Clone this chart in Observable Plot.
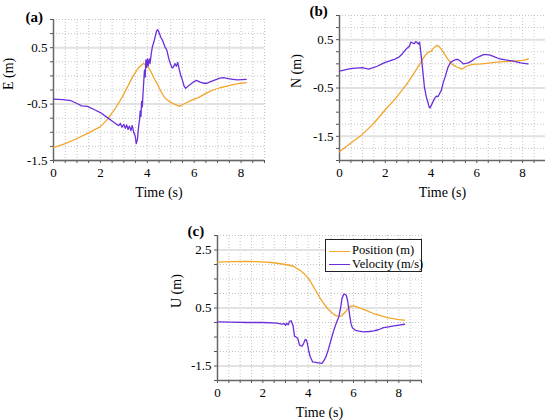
<!DOCTYPE html>
<html><head><meta charset="utf-8">
<script src="https://cdn.jsdelivr.net/npm/d3@7"></script>
<script src="https://cdn.jsdelivr.net/npm/@observablehq/plot@0.6"></script>
<style>
body{margin:0;background:#fff;}
#root{position:relative;width:545px;height:420px;font-family:"Liberation Serif","Times New Roman",serif;overflow:hidden;}
.pan{position:absolute;}
.legend{position:absolute;left:325px;top:239px;width:95px;height:31px;border:1px solid #222;background:#fff;font-family:"Liberation Serif","Times New Roman",serif;font-size:12.5px;color:#000;}
.row{position:absolute;left:3px;height:14px;line-height:14px;white-space:nowrap;}
.sw{display:inline-block;width:21px;height:0;vertical-align:middle;margin-right:2px;}
</style></head><body><div id="root"></div>
<script>
// ---- data (time in s) ----
const tPosE = [0, 0.5, 1.0, 1.5, 2.0, 2.3, 2.6, 2.9, 3.2, 3.4, 3.6, 3.83, 4.0, 4.15, 4.3, 4.45, 4.6, 4.75, 5.0, 5.2, 5.37, 5.6, 5.9, 6.2, 6.5, 6.8, 7.1, 7.4, 7.7, 8.0, 8.22];
const posE = [-1.27, -1.2, -1.11, -1.01, -0.9, -0.77, -0.6, -0.4, -0.16, 0.0, 0.13, 0.22, 0.18, 0.08, -0.05, -0.16, -0.29, -0.39, -0.47, -0.51, -0.54, -0.49, -0.43, -0.38, -0.31, -0.25, -0.21, -0.18, -0.15, -0.13, -0.12];
const tVelE = [0, 0.4, 0.75, 1.0, 1.2, 1.45, 1.75, 2.0, 2.3, 2.5, 2.7, 2.78, 2.85, 2.92, 3.0, 3.06, 3.12, 3.18, 3.24, 3.3, 3.36, 3.42, 3.48, 3.53, 3.58, 3.63, 3.67, 3.7, 3.73, 3.76, 3.79, 3.82, 3.85, 3.88, 3.91, 3.94, 3.97, 4.0, 4.04, 4.08, 4.12, 4.17, 4.22, 4.28, 4.34, 4.4, 4.45, 4.5, 4.58, 4.66, 4.75, 4.84, 4.92, 5.0, 5.06, 5.12, 5.18, 5.24, 5.3, 5.36, 5.42, 5.5, 5.57, 5.64, 5.72, 5.8, 5.9, 6.0, 6.1, 6.25, 6.4, 6.55, 6.7, 6.9, 7.1, 7.25, 7.45, 7.65, 7.85, 8.05, 8.22];
const velE = [-0.41, -0.42, -0.44, -0.49, -0.53, -0.54, -0.6, -0.65, -0.74, -0.8, -0.86, -0.88, -0.84, -0.91, -0.86, -0.93, -0.87, -0.95, -0.89, -0.97, -0.88, -1.0, -1.06, -1.2, -1.12, -0.9, -0.78, -0.62, -0.72, -0.45, -0.55, -0.3, -0.1, 0.1, -0.02, 0.28, 0.15, 0.3, 0.18, 0.3, 0.22, 0.4, 0.52, 0.6, 0.7, 0.8, 0.82, 0.77, 0.68, 0.62, 0.52, 0.45, 0.3, 0.2, 0.14, 0.16, 0.22, 0.17, 0.24, 0.12, 0.02, -0.08, -0.18, -0.22, -0.19, -0.16, -0.13, -0.1, -0.08, -0.11, -0.13, -0.13, -0.1, -0.07, -0.04, -0.03, -0.05, -0.06, -0.07, -0.065, -0.06];

const tPosN = [0, 0.5, 1.0, 1.5, 2.0, 2.5, 3.0, 3.3, 3.55, 3.75, 3.9, 4.0, 4.1, 4.23, 4.35, 4.5, 4.7, 4.9, 5.1, 5.35, 5.55, 5.8, 6.2, 6.6, 7.0, 7.5, 8.0, 8.25];
const posN = [-1.82, -1.64, -1.46, -1.23, -0.95, -0.69, -0.38, -0.16, 0.03, 0.18, 0.25, 0.26, 0.32, 0.38, 0.36, 0.27, 0.12, 0.0, -0.06, -0.11, -0.05, -0.01, 0.0, 0.02, 0.04, 0.05, 0.07, 0.1];
const tVelN = [0, 0.47, 0.99, 1.28, 1.65, 1.94, 2.39, 2.6, 2.75, 2.9, 2.97, 3.05, 3.12, 3.2, 3.27, 3.33, 3.39, 3.45, 3.5, 3.56, 3.64, 3.71, 3.8, 3.86, 3.92, 3.96, 4.0, 4.08, 4.15, 4.23, 4.3, 4.37, 4.45, 4.52, 4.63, 4.74, 4.85, 4.96, 5.08, 5.18, 5.3, 5.4, 5.52, 5.63, 5.78, 5.92, 6.1, 6.29, 6.45, 6.58, 6.75, 6.95, 7.25, 7.54, 7.91, 8.23];
const velN = [-0.15, -0.1, -0.08, -0.11, -0.05, 0.02, 0.09, 0.14, 0.21, 0.3, 0.33, 0.36, 0.45, 0.43, 0.42, 0.46, 0.44, 0.41, 0.45, 0.21, -0.15, -0.48, -0.7, -0.79, -0.9, -0.91, -0.87, -0.79, -0.72, -0.67, -0.68, -0.62, -0.55, -0.41, -0.25, -0.07, 0.03, 0.06, 0.09, 0.09, 0.05, 0.0, 0.01, 0.02, 0.06, 0.11, 0.15, 0.19, 0.19, 0.18, 0.15, 0.11, 0.08, 0.06, 0.02, 0.0];

const tPosU = [0, 0.6, 1.3, 2.0, 2.47, 3.0, 3.36, 3.65, 3.85, 4.02, 4.2, 4.32, 4.45, 4.54, 4.7, 4.83, 5.0, 5.13, 5.25, 5.39, 5.5, 5.64, 5.76, 5.86, 6.01, 6.2, 6.38, 6.6, 6.89, 7.2, 7.48, 7.75, 8.0, 8.25];
const posU = [2.08, 2.1, 2.11, 2.09, 2.06, 2.0, 1.94, 1.79, 1.66, 1.51, 1.28, 1.11, 0.95, 0.82, 0.64, 0.5, 0.37, 0.28, 0.23, 0.21, 0.25, 0.36, 0.48, 0.56, 0.57, 0.52, 0.47, 0.4, 0.31, 0.24, 0.17, 0.13, 0.1, 0.08];
const tVelU = [0, 0.6, 1.3, 2.0, 2.62, 2.84, 2.95, 3.0, 3.06, 3.12, 3.18, 3.25, 3.33, 3.4, 3.47, 3.54, 3.62, 3.73, 3.8, 3.86, 3.9, 3.96, 4.03, 4.09, 4.2, 4.39, 4.61, 4.71, 4.8, 4.9, 5.0, 5.13, 5.25, 5.35, 5.43, 5.49, 5.56, 5.6, 5.68, 5.74, 5.79, 5.85, 5.89, 5.95, 6.08, 6.25, 6.45, 6.7, 6.89, 7.1, 7.33, 7.55, 7.78, 8.0, 8.25];
const velU = [0.02, 0.01, 0.0, 0.0, -0.02, -0.06, -0.04, -0.1, -0.03, -0.08, 0.04, 0.06, -0.1, -0.48, -0.5, -0.55, -0.78, -0.82, -0.72, -0.6, -0.58, -0.7, -1.0, -1.18, -1.36, -1.38, -1.41, -1.3, -1.15, -0.9, -0.62, -0.27, 0.0, 0.19, 0.5, 0.82, 0.96, 0.98, 0.94, 0.75, 0.48, 0.15, -0.04, -0.18, -0.27, -0.3, -0.32, -0.31, -0.29, -0.25, -0.18, -0.15, -0.12, -0.09, -0.06];

// ---- ticks / labels ----
const xTickLabels = [0, 2, 4, 6, 8];
const xDomain = [0, 9];
const yLabelsAB = [-1.5, -0.5, 0.5];
const yLabelsC = [-1.5, 0.5, 2.5];
const seriesNames = ["Position (m)", "Velocity (m/s)"];
const colors = ["#F2A62A", "#6A2EDB"];
const serif = "Liberation Serif, Times New Roman, serif";

const xGrid = d3.range(0, 9.01, 0.5);

function panel(o) {
  const pos = o.tPos.map((t, i) => ({t, v: o.pos[i]}));
  const vel = o.tVel.map((t, i) => ({t, v: o.vel[i]}));
  const yGrid = d3.range(o.yDomain[0], o.yDomain[1] + 0.001, o.yStep);
  return Plot.plot({
    width: o.w, height: o.h,
    marginLeft: o.ml, marginRight: o.mr, marginTop: o.mt, marginBottom: o.mb,
    style: {fontFamily: serif, fontSize: "13px", color: "#000", background: "transparent", overflow: "visible"},
    x: {domain: xDomain},
    y: {domain: o.yDomain},
    marks: [
      Plot.ruleX(xGrid, {stroke: "#bdbdbd", strokeDasharray: "1 2", strokeWidth: 0.9}),
      Plot.ruleY(yGrid, {stroke: "#bdbdbd", strokeDasharray: "1 2", strokeWidth: 0.9}),
      Plot.ruleY(o.yLabels, {stroke: "#e2e2e2", strokeWidth: 2}),
      Plot.axisX({ticks: xGrid, tickFormat: d => xTickLabels.includes(d) ? String(d) : "", tickSize: 3, tickPadding: 4, stroke: "#555", fill: "#000", fontFamily: serif, fontSize: 13, label: null}),
      Plot.axisY({ticks: yGrid, tickFormat: d => o.yLabels.includes(d) ? String(d) : "", tickSize: 3, tickPadding: 3, stroke: "#555", fill: "#000", fontFamily: serif, fontSize: 13, label: null}),
      Plot.ruleX([xDomain[0]], {stroke: "#666", strokeWidth: 1.5}),
      Plot.ruleY([o.yDomain[0]], {stroke: "#666", strokeWidth: 1.5}),
      Plot.line(pos, {x: "t", y: "v", stroke: colors[0], strokeWidth: 1.3}),
      Plot.line(vel, {x: "t", y: "v", stroke: colors[1], strokeWidth: 1.3}),
      Plot.text(["Time (s)"], {frameAnchor: "bottom", lineAnchor: "middle", dy: 32, fontSize: 14, fontFamily: serif}),
      Plot.text([o.yTitle], {frameAnchor: "left", lineAnchor: "middle", rotate: -90, dx: o.ydx, fontSize: 14, fontFamily: serif}),
      Plot.text([o.tag], {frameAnchor: "top-left", textAnchor: "start", lineAnchor: "middle", dx: o.tagdx, dy: o.tagdy, fontWeight: "bold", fontSize: 15, fontFamily: serif})
    ]
  });
}

const root = document.getElementById("root");
function place(svg, left, top) {
  const d = document.createElement("div");
  d.className = "pan"; d.style.left = left + "px"; d.style.top = top + "px";
  d.appendChild(svg); root.appendChild(d);
}

place(panel({w: 272, h: 210, ml: 53, mr: 8, mt: 19, mb: 50, yDomain: [-1.5, 1.0], yStep: 0.25, yLabels: yLabelsAB,
  tPos: tPosE, pos: posE, tVel: tVelE, vel: velE, yTitle: "E (m)", ydx: -45, tag: "(a)", tagdx: -28, tagdy: -2}), 0, 0);
place(panel({w: 273, h: 210, ml: 67, mr: 0, mt: 15, mb: 50, yDomain: [-2.0, 1.0], yStep: 0.25, yLabels: yLabelsAB,
  tPos: tPosN, pos: posN, tVel: tVelN, vel: velN, yTitle: "N (m)", ydx: -43, tag: "(b)", tagdx: -30, tagdy: -4}), 272, 0);
place(panel({w: 280, h: 210, ml: 67, mr: 9, mt: 25, mb: 40, yDomain: [-2.0, 3.0], yStep: 0.5, yLabels: yLabelsC,
  tPos: tPosU, pos: posU, tVel: tVelU, vel: velU, yTitle: "U (m)", ydx: -41, tag: "(c)", tagdx: -30, tagdy: -4}), 150, 210);

// legend
const lg = document.createElement("div");
lg.className = "legend";
seriesNames.forEach((name, i) => {
  const r = document.createElement("div");
  r.className = "row";
  r.style.top = (3 + i * 13.5) + "px";
  r.innerHTML = `<span class="sw" style="border-top:1.5px solid ${colors[i]}"></span>${name}`;
  lg.appendChild(r);
});
root.appendChild(lg);
</script>
</body></html>
